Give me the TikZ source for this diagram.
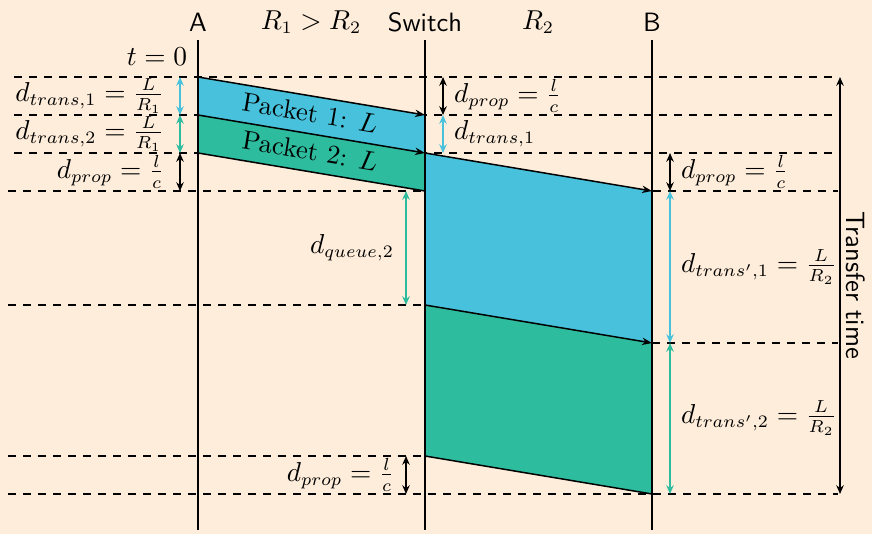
\documentclass[tikz,border=0pt]{standalone}
\usetikzlibrary{arrows.meta}
\definecolor{bgc}{RGB}{254,237,218}
\definecolor{pblue}{RGB}{72,194,220}
\definecolor{pgreen}{RGB}{46,188,158}
\begin{document}
\begin{tikzpicture}[x=0.4pt,y=-0.4pt,
  every node/.style={font=\fontsize{10.6}{12.7}\selectfont},
  vline/.style={line width=0.6pt},
  grid/.style={dashed,line width=0.5pt},
  edge/.style={line width=0.6pt},
  arr/.style={edge,-{Stealth[length=4pt,width=3pt]}},
  dim/.style={line width=0.5pt,{Stealth[length=3.5pt,width=3pt]}-{Stealth[length=3.5pt,width=3pt]}},
  cdim/.style={dim,pblue},
  gdim/.style={dim,pgreen},
  lab/.style={inner sep=1pt},
  head/.style={font=\fontsize{10.6}{12.7}\selectfont\sffamily}]
\fill[bgc] (0,0) rectangle (872,534);
\useasboundingbox (0,0) rectangle (872,534);
% coordinates
\coordinate (a0) at (198,77); \coordinate (a1) at (198,115);
\coordinate (a2) at (198,153); \coordinate (a3) at (198,191);
\coordinate (s0) at (425,77); \coordinate (s1) at (425,115);
\coordinate (s2) at (425,153); \coordinate (s3) at (425,191);
\coordinate (s4) at (425,305); \coordinate (s6) at (425,456);
\coordinate (s7) at (425,494);
\coordinate (b2) at (652,153); \coordinate (b3) at (652,191);
\coordinate (b5) at (652,343); \coordinate (b7) at (652,494);
% dashed grid
\draw[grid] (14,77) -- (838,77);
\draw[grid] (14,115) -- (838,115);
\draw[grid] (14,153) -- (838,153);
\draw[grid] (8,191) -- (838,191);
\draw[grid] (8,305) -- (425,305);
\draw[grid] (652,343) -- (838,343);
\draw[grid] (8,456) -- (425,456);
\draw[grid] (8,494) -- (838,494);
% packets
\fill[pblue] (a0) -- (s1) -- (s2) -- (a1) -- cycle;
\fill[pgreen] (a1) -- (s2) -- (s3) -- (a2) -- cycle;
\fill[pblue] (s2) -- (b3) -- (b5) -- (s4) -- cycle;
\fill[pgreen] (s4) -- (b5) -- (b7) -- (s6) -- cycle;
\draw[arr] (a0) -- (s1);
\draw[arr] (a1) -- (s2);
\draw[edge] (a2) -- (s3);
\draw[arr] (s2) -- (b3);
\draw[arr] (s4) -- (b5);
\draw[edge] (s6) -- (b7);
\node[rotate=-9.5] (p1) at (310,113) {Packet 1: $L$};
\node[rotate=-9.5] (p2) at (310,151) {Packet 2: $L$};
% vertical lines
\coordinate (At) at (198,40); \coordinate (Ab) at (198,530);
\coordinate (St) at (425,40); \coordinate (Sb) at (425,530);
\coordinate (Bt) at (652,40); \coordinate (Bb) at (652,530);
\draw[vline] (At) -- (Ab);
\draw[vline] (St) -- (Sb);
\draw[vline] (Bt) -- (Bb);
% headers
\node[head] (hA) at (198,22) {A};
\node (hR) at (311,22) {$R_1 > R_2$};
\node[head] (hS) at (425,22) {Switch};
\node (hR2) at (538,22) {$R_2$};
\node[head] (hB) at (652,22) {B};
% dimension arrows
\coordinate (d1t) at (180,77); \coordinate (d1b) at (180,115);
\coordinate (d2b) at (180,153); \coordinate (d3b) at (180,191);
\draw[cdim] (d1t) -- (d1b);
\draw[gdim] (d1b) -- (d2b);
\draw[dim] (d2b) -- (d3b);
\coordinate (e0) at (443,77); \coordinate (e1) at (443,115); \coordinate (e2) at (443,153);
\draw[dim] (e0) -- (e1);
\draw[cdim] (e1) -- (e2);
\coordinate (f2) at (670,153); \coordinate (f3) at (670,191);
\coordinate (f5) at (670,343); \coordinate (f7) at (670,494);
\draw[dim] (f2) -- (f3);
\draw[cdim] (f3) -- (f5);
\draw[gdim] (f5) -- (f7);
\coordinate (q0) at (406,191); \coordinate (q1) at (406,305);
\draw[gdim] (q0) -- (q1);
\coordinate (g0) at (406,456); \coordinate (g1) at (406,494);
\draw[dim] (g0) -- (g1);
\coordinate (T0) at (840,77); \coordinate (T1) at (840,494);
\draw[dim] (T0) -- (T1);
% labels
\node[lab,anchor=east] (lt0) at (190,57) {$t=0$};
\node[lab,anchor=east] (l1) at (167,96) {$d_{trans,1}=\frac{L}{R_1}$};
\node[lab,anchor=east] (l2) at (167,134) {$d_{trans,2}=\frac{L}{R_1}$};
\node[lab,anchor=east] (l3) at (167,172) {$d_{prop}=\frac{l}{c}$};
\node[lab,anchor=west] (m1) at (451,96) {$d_{prop}=\frac{l}{c}$};
\node[lab,anchor=west] (m2) at (451,134) {$d_{trans,1}$};
\node[lab,anchor=west] (n1) at (678,172) {$d_{prop}=\frac{l}{c}$};
\node[lab,anchor=west] (n2) at (678,267) {$d_{trans',1}=\frac{L}{R_2}$};
\node[lab,anchor=west] (n3) at (678,418) {$d_{trans',2}=\frac{L}{R_2}$};
\node[lab,anchor=east] (q) at (397,248) {$d_{queue,2}$};
\node[lab,anchor=east] (g) at (397,475) {$d_{prop}=\frac{l}{c}$};
\node[head,rotate=-90] (tt) at (856,285) {Transfer time};
\end{tikzpicture}
\end{document}
